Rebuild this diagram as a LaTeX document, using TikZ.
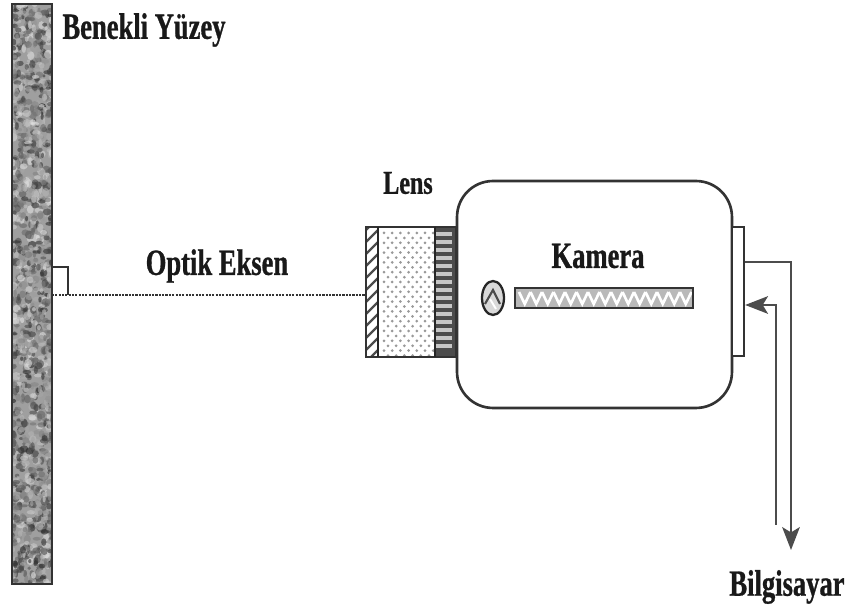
\documentclass[tikz,border=0pt]{standalone}
\usepackage{fontspec}
\setmainfont[FakeStretch=0.72,FakeBold=0.8]{Liberation Serif}
\usetikzlibrary{shapes.geometric,arrows.meta}
\tikzset{
    etiket/.style={font=\fontsize{21}{24}\selectfont\bfseries, inner sep=0pt, text=black!90},
    kutu/.style={draw=black!80, line width=1.5pt, inner sep=0pt},
    kablo/.style={draw=black!70, line width=1.4pt},
}

\begin{document}
\begin{tikzpicture}[x=0.02cm,y=-0.02cm]
    \useasboundingbox (0,0) rectangle (850,614);

    % Speckled surface
    \fill[gray!75] (12,4) rectangle (52,584);
    \begin{scope}
        \clip (12,4) rectangle (52,584);
        \pgfmathsetseed{41}
        \foreach \k in {1,...,1300} {
            \pgfmathsetmacro{\px}{12+40*rnd}
            \pgfmathsetmacro{\py}{4+580*rnd}
            \pgfmathsetmacro{\tone}{int(10+75*rnd)}
            \pgfmathsetmacro{\ra}{1.5+3*rnd}
            \pgfmathsetmacro{\rb}{1.5+3*rnd}
            \fill[black!\tone, opacity=0.6] (\px,\py) ellipse (\ra*0.02cm and \rb*0.02cm);
        }
    \end{scope}
    \node[kutu, minimum width=0.8cm, minimum height=11.6cm] (yuzey) at (32,294) {};

    % Labels
    \node[etiket] (benekli) at (144,30) {Benekli Yüzey};
    \node[etiket] (optik) at (217,266) {Optik Eksen};
    \node[etiket, font=\fontsize{19}{22}\selectfont\bfseries] (lenslabel) at (408,183) {Lens};
    \node[etiket] (kameralabel) at (598,256) {Kamera};
    \node[etiket] (bilgisayar) at (787,587) {Bilgisayar};

    % Camera body and back plate
    \node[kutu, rounded corners=0.72cm, minimum width=5.5cm, minimum height=4.54cm] (kamera) at (594.5,294.5) {};
    \node[kutu, line width=1.3pt, fill=white, minimum width=0.24cm, minimum height=2.58cm] (plaka) at (738,291.5) {};

    % Lens: hatched front
    \begin{scope}
        \clip (366,227) rectangle (378,357);
        \foreach \i in {220,232,...,372} {
            \draw[black!70, line width=1.4pt] (364,\i) -- (380,\i-16);
        }
    \end{scope}
    % Lens: dotted middle
    \foreach \i in {0,...,6} {
        \foreach \j in {0,...,12} {
            \fill[gray!80] (384+\i*8.2,233+\j*9.8) circle (0.03cm);
            \fill[gray!80] (388+\i*8.2,238+\j*9.8) circle (0.03cm);
        }
    }
    % Lens: ribbed back
    \fill[black!70] (435,227) rectangle (456,357);
    \foreach \j in {234,242,...,352} {
        \draw[gray!45, line width=1.8pt] (436,\j) -- (452,\j);
    }
    \node[kutu, minimum width=1.8cm, minimum height=2.6cm] (lens) at (411,292) {};
    \draw[black!85, line width=1.4pt] (378,227) -- (378,357);
    \draw[black!85, line width=1.4pt] (435,227) -- (435,357);

    % Aperture
    \node[draw=black!85, line width=1.3pt, ellipse, inner sep=0pt, minimum width=0.44cm, minimum height=0.68cm, fill=gray!30] (iris) at (493,298) {};
    \draw[black!70, line width=1.2pt] (485,304) -- (493,290) -- (500,304);
    \draw[white, line width=1.1pt] (490,299) -- (496,309);

    % Sensor bar
    \fill[gray!55] (515,288) rectangle (693,308);
    \foreach \i in {519,530.5,...,680} {
        \draw[white, line width=1.5pt] (\i,292) -- (\i+5.75,304) -- (\i+11.5,292);
    }
    \node[kutu, line width=1.5pt, minimum width=3.56cm, minimum height=0.4cm] (sensor) at (604,298) {};

    % Optical axis and right angle
    \coordinate (eksen) at (52,295);
    \coordinate (dik) at (68,267);
    \draw[black!80, line width=1.7pt, dash pattern=on 1.2pt off 0.7pt] (eksen) -- (lens.west |- eksen);
    \draw[black!80, line width=1.3pt] (yuzey.east |- dik) -- (dik) -- (dik |- eksen);

    % Cables
    \coordinate (cikis) at (791,550);
    \coordinate (giris) at (776,525);
    \coordinate (ust) at (760,262);
    \coordinate (alt) at (760,305);
    \draw[kablo, -{Stealth[length=13pt,width=10pt,inset=3pt]}] (plaka.east |- ust) -| (cikis);
    \draw[kablo, -{Stealth[length=13pt,width=10pt,inset=3pt]}] (giris) |- (plaka.east |- alt);
\end{tikzpicture}
\end{document}
